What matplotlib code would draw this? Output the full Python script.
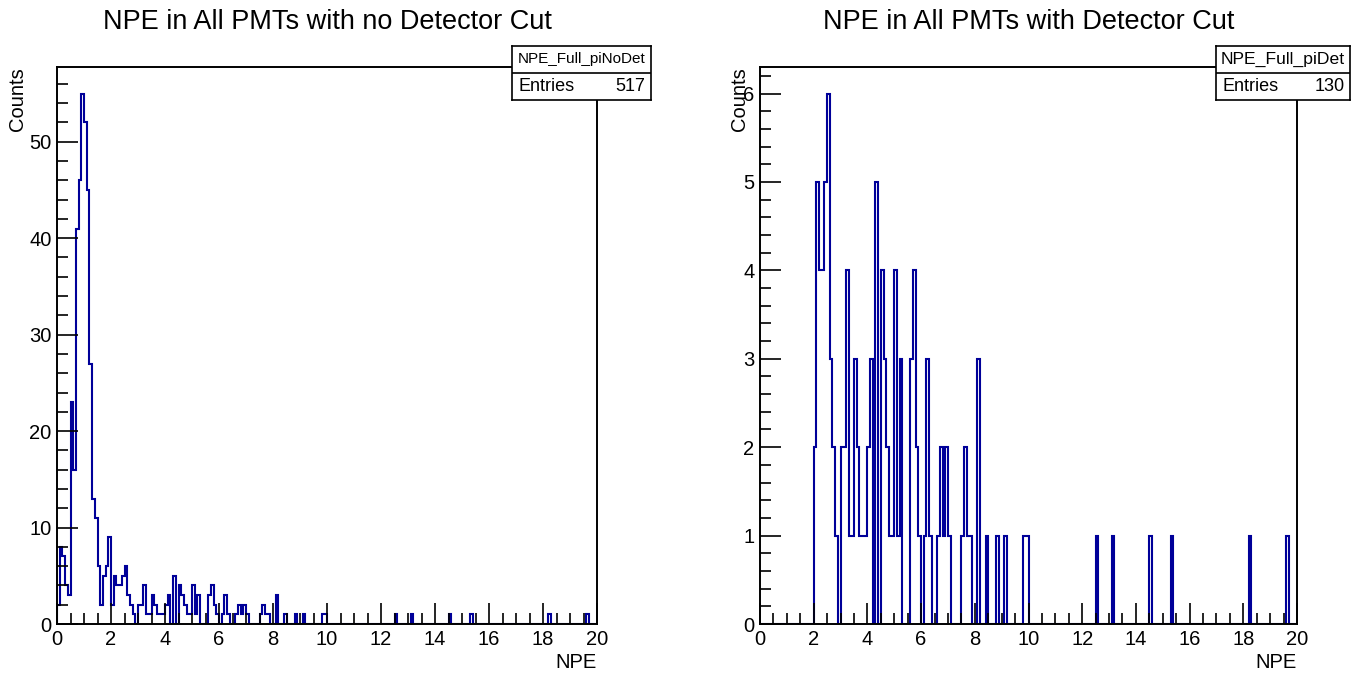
import numpy as np
import matplotlib
matplotlib.use('Agg')
import matplotlib.pyplot as plt
from matplotlib.ticker import MultipleLocator

plt.rcParams['font.family'] = ['Liberation Sans', 'DejaVu Sans']

W, H = 1363, 675

# 200 bins of 0.1 NPE from 0 to 20
npe_edges = np.linspace(0, 20, 201)

# 0.0 - 2.0 NPE, only present without the detector cut
low_npe_nocut = [2, 8, 7, 4, 3, 23, 16, 41, 46, 55,
                 52, 45, 27, 13, 11, 6, 2, 5, 6, 9]

# 2.0 - 10.0 NPE, same in both plots
mid_npe = [2, 5, 4, 4, 5, 6, 3, 2, 1, 0,
           2, 2, 4, 1, 1, 3, 2, 1, 1, 1,
           2, 3, 0, 5, 0, 4, 3, 2, 1, 1,
           4, 1, 3, 0, 0, 0, 3, 4, 2, 1,
           0, 1, 3, 1, 0, 0, 1, 2, 1, 2,
           1, 0, 0, 0, 0, 1, 2, 1, 1, 0,
           0, 3, 0, 0, 1, 0, 0, 0, 1, 0,
           0, 1, 0, 0, 0, 0, 0, 0, 1, 1]

# 10.0 - 20.0 NPE
high_npe = [0, 0, 0, 0, 0, 0, 0, 0, 0, 0, 0, 0, 0, 0, 0, 0, 0, 0, 0, 0,
            0, 0, 0, 0, 0, 1, 0, 0, 0, 0, 0, 1, 0, 0, 0, 0, 0, 0, 0, 0,
            0, 0, 0, 0, 0, 1, 0, 0, 0, 0, 0, 0, 0, 1, 0, 0, 0, 0, 0, 0,
            0, 0, 0, 0, 0, 0, 0, 0, 0, 0, 0, 0, 0, 0, 0, 0, 0, 0, 0, 0,
            0, 0, 1, 0, 0, 0, 0, 0, 0, 0, 0, 0, 0, 0, 0, 0, 1, 0, 0, 0]

counts_nocut = np.array(low_npe_nocut + mid_npe + high_npe)
counts_det = np.array([0] * 20 + mid_npe + high_npe)

titles = ['NPE in All PMTs with no Detector Cut', 'NPE in All PMTs with Detector Cut']
hist_names = ['NPE_Full_piNoDet', 'NPE_Full_piDet']
entries = [517, 130]
name_sizes = [11, 12.6]

line_col = '#000099'

fig = plt.figure(figsize=(W / 100, H / 100), dpi=100)


def px_box(x0, y0, x1, y1):
    # pixel rectangle (top-left origin) -> figure fraction
    return [x0 / W, 1 - y1 / H, (x1 - x0) / W, (y1 - y0) / H]


frames = [(57, 67, 597, 624), (760, 67, 1297, 624)]
boxes = [(512, 46, 651, 100), (1216, 46, 1350, 100)]
ylab_x = [17, 740]
data = [counts_nocut, counts_det]
ytick = [(10, 2), (1, 0.2)]

for i in range(2):
    x0, y0, x1, y1 = frames[i]
    ax = fig.add_axes(px_box(x0, y0, x1, y1))
    ax.stairs(data[i], npe_edges, color=line_col, linewidth=1.5, baseline=0)
    ax.set_xlim(0, 20)
    ax.set_ylim(0, data[i].max() * 1.05)
    ax.xaxis.set_major_locator(MultipleLocator(2))
    ax.xaxis.set_minor_locator(MultipleLocator(0.5))
    ax.yaxis.set_major_locator(MultipleLocator(ytick[i][0]))
    ax.yaxis.set_minor_locator(MultipleLocator(ytick[i][1]))
    ax.tick_params(which='both', direction='in', top=False, right=False,
                   width=1.2, labelsize=14.5, pad=4)
    ax.tick_params(which='major', length=15)
    ax.tick_params(which='minor', length=8)
    for s in ax.spines.values():
        s.set_linewidth(1.4)

    cx = (x0 + x1) / 2
    fig.text(cx / W, 1 - 22 / H, titles[i], ha='center', va='center', fontsize=19.5)
    fig.text(x1 / W, 1 - 662 / H, 'NPE', ha='right', va='center', fontsize=14.5)
    fig.text(ylab_x[i] / W, 1 - y0 / H, 'Counts', rotation=90,
             ha='center', va='top', fontsize=14.5)

    # stats box
    bx0, by0, bx1, by1 = boxes[i]
    sb = fig.add_axes(px_box(bx0, by0, bx1, by1))
    sb.set_xlim(0, 1)
    sb.set_ylim(0, 2)
    sb.set_xticks([])
    sb.set_yticks([])
    sb.axhline(1, color='black', linewidth=1.2)
    for s in sb.spines.values():
        s.set_linewidth(1.2)
    sb.text(0.5, 1.5, hist_names[i], ha='center', va='center', fontsize=name_sizes[i])
    sb.text(0.05, 0.5, 'Entries', ha='left', va='center', fontsize=13)
    sb.text(0.96, 0.5, str(entries[i]), ha='right', va='center', fontsize=13)

fig.savefig('out.png', dpi=100)
